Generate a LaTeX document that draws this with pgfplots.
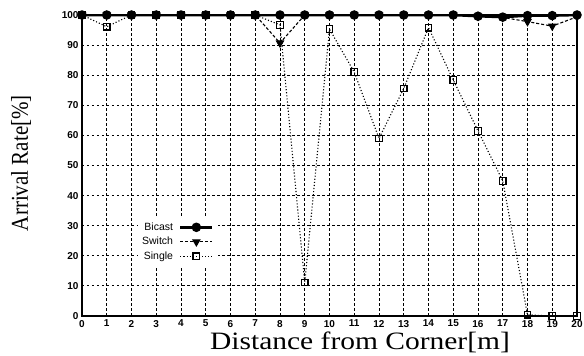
\documentclass[border=0pt]{standalone}
\usepackage{fontspec}
\setmainfont{Liberation Serif}
\setsansfont{Liberation Sans}
\newfontfamily\xlabfont[FakeStretch=1.18]{Liberation Serif}
\usepackage{pgfplots}
\pgfplotsset{compat=1.18}
\begin{document}
\begin{tikzpicture}
\path[use as bounding box] (-82pt,-40pt) rectangle (502pt,316pt);
\begin{axis}[
  at={(0,0)}, anchor=south west,
  scale only axis, width=495pt, height=301pt,
  xmin=0, xmax=20, ymin=0, ymax=100,
  xtick={0,1,...,20}, ytick={0,10,...,100},
  grid=major,
  grid style={black, dash pattern=on 2.5pt off 2.5pt, line width=0.8pt},
  axis line style={black, line width=1.1pt},
  tick style={draw=none},
  /pgf/number format/assume math mode=true,
  ticklabel style={font=\sffamily\bfseries\fontsize{10}{10}\selectfont},
  xticklabel style={yshift=-0.5pt},
  yticklabel style={xshift=0pt},
  xlabel={\xlabfont\fontsize{25}{25}\selectfont Distance from Corner[m]},
  xlabel style={at={(rel axis cs:0.5616,0)}, anchor=base, yshift=-34pt},
  ylabel={\scalebox{1}[1.15]{\fontsize{21}{21}\selectfont Arrival Rate[\%]}},
  ylabel style={at={(rel axis cs:-0.1232,0.508)}, anchor=center},
  legend plot pos=right,
  legend cell align=right,
  reverse legend,
  legend image code/.code={\draw[mark repeat=2,mark phase=2,#1] plot coordinates {(0pt,0pt) (16pt,0pt) (32pt,0pt)};},
  legend style={draw=none, fill=white, at={(axis cs:5.49,32.6)}, anchor=north east,
    inner sep=4pt, row sep=4pt,
    font=\sffamily\fontsize{10.5}{11}\selectfont,
    nodes={inner sep=0pt, text height=8pt, text depth=2.5pt},
    /tikz/every odd column/.append style={column sep=6pt}},
]
% Single
\addplot[black, line width=1.1pt, dotted, mark=square, mark size=3.3pt,
  mark options={solid, line width=1.2pt}] coordinates {
(0,100) (1,96.1) (2,100) (3,100) (4,100) (5,100) (6,100) (7,100) (8,96.7)
(9,11.1) (10,95.3) (11,81) (12,59) (13,75.6) (14,95.8) (15,78.4) (16,61.5)
(17,44.9) (18,0.4) (19,0) (20,0)};
\addlegendentry{Single}
% Switch
\addplot[black, line width=1.1pt, dash pattern=on 3pt off 2pt, mark=triangle*, mark size=4pt,
  mark options={solid, rotate=180}] coordinates {
(0,100) (1,100) (2,100) (3,100) (4,100) (5,100) (6,100) (7,100) (8,90.7)
(9,100) (10,100) (11,100) (12,100) (13,100) (14,100) (15,100) (16,99.6)
(17,99.2) (18,97.8) (19,96.3) (20,99.4)};
\addlegendentry{Switch}
% Bicast
\addplot[black, line width=2.6pt, mark=*, mark size=3.4pt] coordinates {
(0,100) (1,100) (2,100) (3,100) (4,100) (5,100) (6,100) (7,100) (8,100)
(9,100) (10,100) (11,100) (12,100) (13,100) (14,100) (15,100) (16,99.6)
(17,99.3) (18,99.8) (19,99.8) (20,100)};
\addlegendentry{Bicast}
\end{axis}
\end{tikzpicture}
\end{document}
